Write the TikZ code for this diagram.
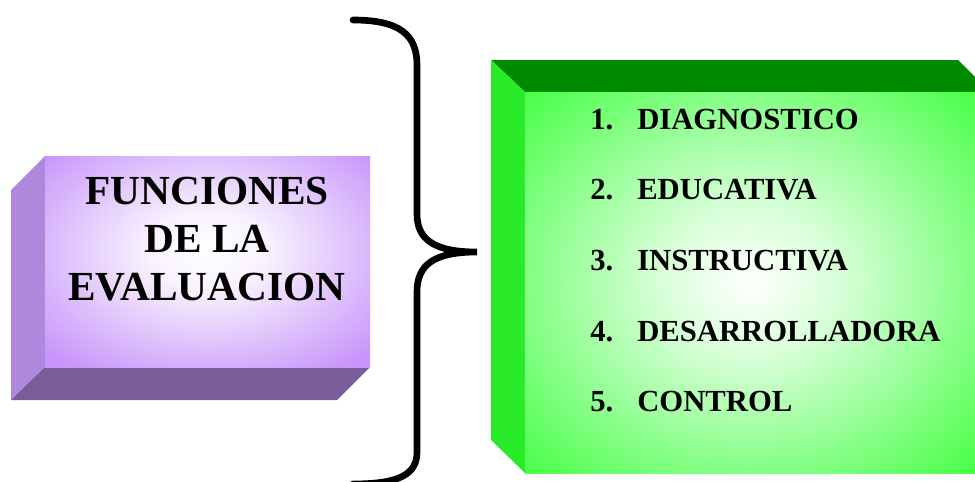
\documentclass[tikz,border=0pt]{standalone}
\usepackage{fontspec}
\setmainfont{Liberation Serif}
\definecolor{lilaFront}{HTML}{C896FA}
\definecolor{lilaSide}{HTML}{AE88DC}
\definecolor{lilaBottom}{HTML}{7A5C96}
\definecolor{verdeFront}{HTML}{22FF22}
\definecolor{verdeSide}{HTML}{2AEB2A}
\definecolor{verdeTop}{HTML}{008A00}
\pgfdeclareradialshading{lilaglow}{\pgfpoint{0bp}{3bp}}{color(0bp)=(white); color(9bp)=(white!88!lilaFront); color(34bp)=(lilaFront); color(100bp)=(lilaFront)}
\pgfdeclareradialshading{verdeglow}{\pgfpoint{0bp}{0bp}}{color(0bp)=(white); color(10bp)=(white!82!verdeFront); color(42bp)=(verdeFront); color(100bp)=(verdeFront)}
\tikzset{
  titulo/.style={align=center, inner sep=0pt, font=\fontsize{31}{36}\selectfont\bfseries},
  item/.style={anchor=base west, inner sep=0pt, font=\fontsize{23}{28}\selectfont\bfseries}
}
\begin{document}
\begin{tikzpicture}[x=0.75pt,y=-0.75pt]
  \useasboundingbox (0,0) rectangle (975,482);
  % caja lila
  \fill[lilaSide] (45,156) -- (11,190) -- (11,400) -- (45,367) -- cycle;
  \fill[lilaBottom] (45,367) -- (370,367) -- (337,400) -- (11,400) -- cycle;
  \shade[shading=lilaglow] (45,156) rectangle (370,367);
  \node[titulo] (funciones) at (207,239) {FUNCIONES\\DE LA\\EVALUACION};
  % llave
  \draw[line width=5pt, line cap=round] (353,20) .. controls (400,20) and (417,35) .. (417,65)
     -- (417,214) .. controls (417,240) and (435,252) .. (477,252)
     .. controls (435,252) and (417,264) .. (417,292)
     -- (417,452) .. controls (417,474) and (400,484) .. (353,484);
  % caja verde
  \fill[verdeTop] (491,60) -- (958,60) -- (975,77) -- (975,92) -- (525,92) -- cycle;
  \fill[verdeSide] (491,60) -- (525,92) -- (525,473) -- (491,440) -- cycle;
  \shade[shading=verdeglow] (525,92) rectangle (975,473);
  \foreach \txt [count=\i] in {DIAGNOSTICO,EDUCATIVA,INSTRUCTIVA,DESARROLLADORA,CONTROL} {
    \node[item] (num\i) at (590,{129+70.7*(\i-1)}) {\i.};
    \node[item] (fun\i) at (637,{129+70.7*(\i-1)}) {\txt};
  }
\end{tikzpicture}
\end{document}
